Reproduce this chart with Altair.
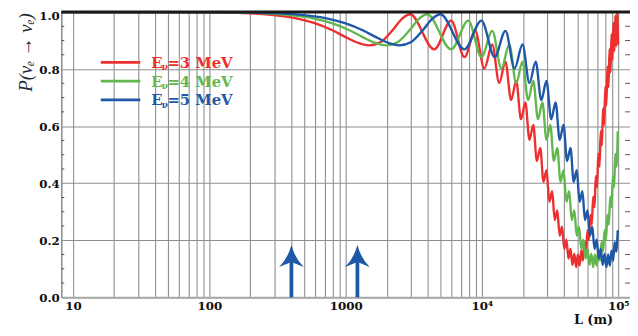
import altair as alt
import pandas as pd

# ---------------- data ----------------
series_names = ["Eν=3 MeV", "Eν=4 MeV", "Eν=5 MeV"]
series_colors = ["#ec3030", "#62b74e", "#1f58a6"]

red_L = [8.2, 100, 200, 400, 600, 800, 1000, 1200, 1488, 1800, 2200, 2600, 2976,
         4464, 5952, 7440, 8928, 10416, 11904, 13392, 14880, 16368, 17856, 19344, 20832,
         22320, 23808, 25296, 26784, 28272, 29760, 31248, 32736, 34224, 35712, 37200, 38688,
         40176, 41664, 43152, 44640, 46128, 47616, 49104, 50592, 52080, 53568, 55056, 56544,
         58032, 59520, 61008, 62496, 63984, 65472, 66960, 68448, 69936, 71424, 72912, 74400,
         75888, 77376, 78864, 80352, 81840, 83328, 84816, 86304, 87792, 89280, 90768, 92256,
         93744, 95232, 96720, 98208, 99696]
red_P = [1.0, 0.999, 0.995, 0.981, 0.960, 0.936, 0.912, 0.894, 0.883, 0.894, 0.935, 0.977, 0.992,
         0.869, 0.970, 0.842, 0.934, 0.802, 0.886, 0.751, 0.826, 0.691, 0.758, 0.624, 0.683,
         0.552, 0.604, 0.478, 0.524, 0.405, 0.446, 0.335, 0.372, 0.271, 0.305, 0.216, 0.248,
         0.170, 0.202, 0.136, 0.170, 0.114, 0.153, 0.106, 0.150, 0.111, 0.164, 0.129, 0.193,
         0.160, 0.235, 0.202, 0.289, 0.255, 0.353, 0.316, 0.425, 0.386, 0.503, 0.458, 0.582,
         0.532, 0.662, 0.605, 0.738, 0.673, 0.808, 0.736, 0.871, 0.789, 0.922, 0.832, 0.962,
         0.863, 0.988, 0.881, 0.999, 0.885]

green_L = [8.2, 133, 267, 533, 800, 1067, 1333, 1600, 1984, 2400, 2933, 3467, 3968,
           5952, 7936, 9920, 11904, 13888, 15872, 17856, 19840, 21824, 23808, 25792, 27776,
           29760, 31744, 33728, 35712, 37696, 39680, 41664, 43648, 45632, 47616, 49600, 51584,
           53568, 55552, 57536, 59520, 61504, 63488, 65472, 67456, 69440, 71424, 73408, 75392,
           77376, 79360, 81344, 83328, 85312, 87296, 89280, 91264, 93248, 95232, 97216, 99200]
green_P = [1.0, 0.999, 0.995, 0.981, 0.960, 0.936, 0.912, 0.894, 0.883, 0.894, 0.935, 0.977, 0.992,
           0.869, 0.970, 0.842, 0.934, 0.802, 0.886, 0.751, 0.826, 0.691, 0.758, 0.624, 0.683,
           0.552, 0.604, 0.478, 0.524, 0.405, 0.446, 0.335, 0.372, 0.271, 0.305, 0.216, 0.248,
           0.170, 0.202, 0.136, 0.170, 0.114, 0.153, 0.106, 0.150, 0.111, 0.164, 0.129, 0.193,
           0.160, 0.235, 0.202, 0.289, 0.255, 0.353, 0.316, 0.425, 0.386, 0.503, 0.458, 0.582]

blue_L = [8.2, 167, 333, 667, 1000, 1333, 1667, 2000, 2480, 3000, 3667, 4333, 4960,
          7440, 9920, 12400, 14880, 17360, 19840, 22320, 24800, 27280, 29760, 32240, 34720,
          37200, 39680, 42160, 44640, 47120, 49600, 52080, 54560, 57040, 59520, 62000, 64480,
          66960, 69440, 71920, 74400, 76880, 79360, 81840, 84320, 86800, 89280, 91760, 94240,
          96720, 99200]
blue_P = [1.0, 0.999, 0.995, 0.981, 0.960, 0.936, 0.912, 0.894, 0.883, 0.894, 0.935, 0.977, 0.992,
          0.869, 0.970, 0.842, 0.934, 0.802, 0.886, 0.751, 0.826, 0.691, 0.758, 0.624, 0.683,
          0.552, 0.604, 0.478, 0.524, 0.405, 0.446, 0.335, 0.372, 0.271, 0.305, 0.216, 0.248,
          0.170, 0.202, 0.136, 0.170, 0.114, 0.153, 0.106, 0.150, 0.111, 0.164, 0.129, 0.193,
          0.160, 0.235]

arrow_L = [400, 1220]
arrow_tip = [0.183, 0.183]
arrow_notch = [0.13, 0.13]

x_grid = [10, 20, 30, 40, 50, 60, 70, 80, 90,
          100, 200, 300, 400, 500, 600, 700, 800, 900,
          1000, 2000, 3000, 4000, 5000, 6000, 7000, 8000, 9000,
          10000, 20000, 30000, 40000, 50000, 60000, 70000, 80000, 90000, 100000]
y_ticks = [0.0, 0.2, 0.4, 0.6, 0.8, 1.0]
y_minor = [0.05, 0.1, 0.15, 0.25, 0.3, 0.35, 0.45, 0.5, 0.55, 0.65, 0.7, 0.75, 0.85, 0.9, 0.95]

# ---------------- chart ----------------
W, H = 576, 289
xs = alt.Scale(type="log", domain=[8.2, 122000], nice=False)
ys = alt.Scale(domain=[0, 1], nice=False)
GRID = "#8e8e8e"

x_label_expr = ("datum.value == 10 ? '10' : datum.value == 100 ? '100' : "
                "datum.value == 1000 ? '1000' : datum.value == 10000 ? '10⁴' : "
                "datum.value == 100000 ? '10⁵' : ''")

xaxis = alt.Axis(values=x_grid, labelExpr=x_label_expr, grid=True, gridColor=GRID,
                 gridWidth=1.1, ticks=False, tickSize=0, domain=True, domainColor="#a8a8a8",
                 domainWidth=2, labelFont="DejaVu Serif", labelFontWeight="bold",
                 labelFontSize=12, labelColor="#111111", labelPadding=3,
                 labelOverlap=False, labelFlush=False, labelBound=False, title=None)
yaxis = alt.Axis(values=y_ticks, format=".1f", grid=True, gridColor=GRID, gridWidth=1.1,
                 ticks=False, tickSize=0, domain=True, domainColor="#8a8a8a", domainWidth=1.5,
                 labelFont="DejaVu Serif", labelFontWeight="bold", labelFontSize=12,
                 labelColor="#111111", labelPadding=2, labelFlush=False,
                 labelOffset={"condition": {"test": "datum.value == 1", "value": 3.5},
                              "value": 0},
                 title=None)

X = alt.X("L:Q", scale=xs, axis=xaxis)
Y = alt.Y("P:Q", scale=ys, axis=yaxis)


def curve(L, P, color):
    df = pd.DataFrame({"L": L, "P": P})
    return alt.Chart(df).mark_line(strokeWidth=2.4, interpolate="monotone", clip=True,
                                   color=color).encode(x=X, y=Y)


layers = [
    curve(red_L, red_P, series_colors[0]),
    curve(green_L, green_P, series_colors[1]),
    curve(blue_L, blue_P, series_colors[2]),
]

arr_df = pd.DataFrame({"L": arrow_L, "P": arrow_tip, "P0": [0.0, 0.0], "Pn": arrow_notch})
layers.append(alt.Chart(arr_df).mark_rule(strokeWidth=3.8, color=series_colors[2]).encode(
    x=X, y=alt.Y("P0:Q", scale=ys, axis=yaxis), y2="Pn:Q"))
head_path = "M0,0 Q0.3,1.1 1,1.78 L0,1.36 L-1,1.78 Q-0.3,1.1 0,0 Z"
layers.append(alt.Chart(arr_df).mark_point(shape=head_path, size=625, filled=True, opacity=1,
                                           color=series_colors[2], strokeWidth=0).encode(x=X, y=Y))

minor_df = pd.DataFrame({"P": y_minor})
layers.append(alt.Chart(minor_df).mark_rule(color="#555555", strokeWidth=1).encode(
    y=Y, x=alt.value(0), x2=alt.value(3)))
layers.append(alt.Chart(minor_df).mark_rule(color="#555555", strokeWidth=1).encode(
    y=Y, x=alt.value(W - 5), x2=alt.value(W)))

top_df = pd.DataFrame({"P": [1.0]})
layers.append(alt.Chart(top_df).mark_rule(color="#1a1a1a", strokeWidth=3).encode(
    y=Y, x=alt.value(0), x2=alt.value(W)))

one = pd.DataFrame({"a": [0]})
legend_y = [51, 70, 89]
for name, col, ly in zip(series_names, series_colors, legend_y):
    layers.append(alt.Chart(one).mark_rule(strokeWidth=2.6, color=col).encode(
        x=alt.value(40), x2=alt.value(80), y=alt.value(ly)))
    layers.append(alt.Chart(one).mark_text(text="E", font="DejaVu Serif", fontWeight="bold",
                                           fontSize=15, color=col, align="left",
                                           baseline="alphabetic").encode(
        x=alt.value(91), y=alt.value(ly + 5.5)))
    layers.append(alt.Chart(one).mark_text(text="ν", font="DejaVu Serif", fontWeight="bold",
                                           fontSize=9.5, color=col, align="left",
                                           baseline="alphabetic").encode(
        x=alt.value(101.5), y=alt.value(ly + 8)))
    layers.append(alt.Chart(one).mark_text(text=name[2:], font="DejaVu Serif", fontWeight="bold",
                                           fontSize=15, color=col, align="left",
                                           baseline="alphabetic").encode(
        x=alt.value(107.5), y=alt.value(ly + 5.5)))

layers.append(alt.Chart(one).mark_text(text="P(νₑ → νₑ)", font="Liberation Serif",
                                       fontStyle="italic", fontSize=19, color="#1e2a36",
                                       angle=270, align="center", baseline="middle").encode(
    x=alt.value(-36), y=alt.value(41)))
layers.append(alt.Chart(one).mark_text(text="L (m)", font="DejaVu Serif", fontWeight="bold",
                                       fontSize=13, color="#111111", align="center",
                                       baseline="alphabetic").encode(
    x=alt.value(539), y=alt.value(316)))

chart = alt.layer(*layers).properties(
    width=W, height=H,
    autosize=alt.AutoSizeParams(type="none"),
    padding={"left": 54, "top": 2, "right": 0, "bottom": 29},
).configure_view(stroke=None)

chart.save("out.html", embed_options={"renderer": "svg", "actions": False})
